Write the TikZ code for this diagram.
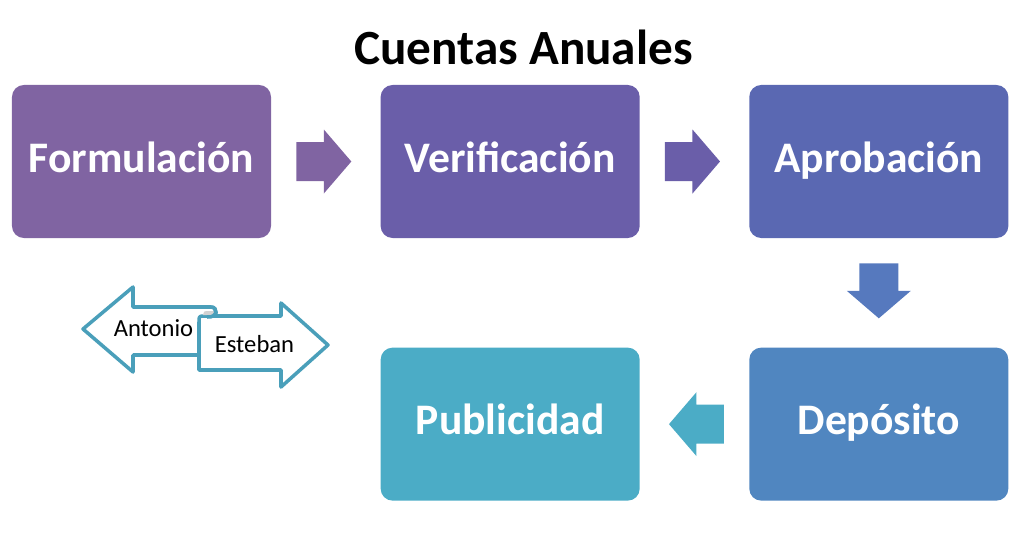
\documentclass[tikz,border=0pt]{standalone}
\usepackage{fontspec}
\setmainfont{Carlito}
\usetikzlibrary{positioning,calc}

\definecolor{cFormu}{HTML}{8064A2}
\definecolor{cVerif}{HTML}{6A5EA9}
\definecolor{cAprob}{HTML}{5A68B2}
\definecolor{cDepos}{HTML}{5086C0}
\definecolor{cPubli}{HTML}{4BACC6}
\definecolor{cBajar}{HTML}{5679BE}
\definecolor{cRollo}{HTML}{4A9FBA}

\tikzset{
  paso/.style={fill=#1, rounded corners=0.3cm, minimum width=6.475cm, minimum height=3.825cm,
    inner sep=0pt, text=white, font=\fontsize{31}{35}\selectfont\bfseries,
    text height=23pt, text depth=8pt},
  rollo/.style={draw=cRollo, line width=2.5pt, fill=white, line join=round},
  nombre/.style={font=\fontsize{17.5}{20}\selectfont, inner sep=0pt, anchor=base}
}

\begin{document}
\begin{tikzpicture}[x=0.025cm, y=-0.025cm]
\useasboundingbox (0,0) rectangle (1011,553);
% Title
\node[font=\fontsize{35}{40}\selectfont\bfseries, inner sep=0pt, anchor=base] (titulo) at (523.5,64) {Cuentas Anuales};
% Steps
\node[paso=cFormu] (formu) at (141.5,161.5) {Formulación};
\node[paso=cVerif, right=2.725cm of formu] (verif) {Verificación};
\node[paso=cAprob, right=2.725cm of verif] (aprob) {Aprobación};
\node[paso=cDepos, below=2.725cm of aprob] (depos) {Depósito};
\node[paso=cPubli, left=2.725cm of depos] (publi) {Publicidad};
% Block arrows between the steps
\foreach \a/\b/\ang/\col in {formu.east/verif.west/0/cFormu, verif.east/aprob.west/0/cVerif,
    aprob.south/depos.north/-90/cBajar, depos.west/publi.east/180/cPubli} {
  \fill[\col, shift={($(\a)!0.5!(\b)$)}, rotate=\ang]
    (-29.5,-19.5) -- (-2,-19.5) -- (-2,-32) -- (25.5,0) -- (-2,32) -- (-2,19.5) -- (-29.5,19.5) -- cycle;
}
% Antonio / Esteban arrows
\draw[rollo] (83,329) -- (133,287) -- (133,307) -- (211,307)
  .. controls (218,307) and (218,318) .. (210,318) -- (217,355) -- (133,355) -- (133,372) -- cycle;
\draw[rollo] (199,370) -- (199,322) .. controls (199,316) .. (205,316) -- (281,316) -- (281,303)
  -- (328,345) -- (281,387) -- (281,370) -- cycle;
\fill[gray!35] (203,315) .. controls (204,311) .. (210,311) -- (214,311) -- (214,315) -- cycle;
\draw[cRollo, line width=2.5pt] (211,307) .. controls (218,307) and (218,318) .. (207,317);
\node[nombre] (antonio) at (153.5,336) {Antonio};
\node[nombre] (esteban) at (254.5,352.5) {Esteban};
\end{tikzpicture}
\end{document}
